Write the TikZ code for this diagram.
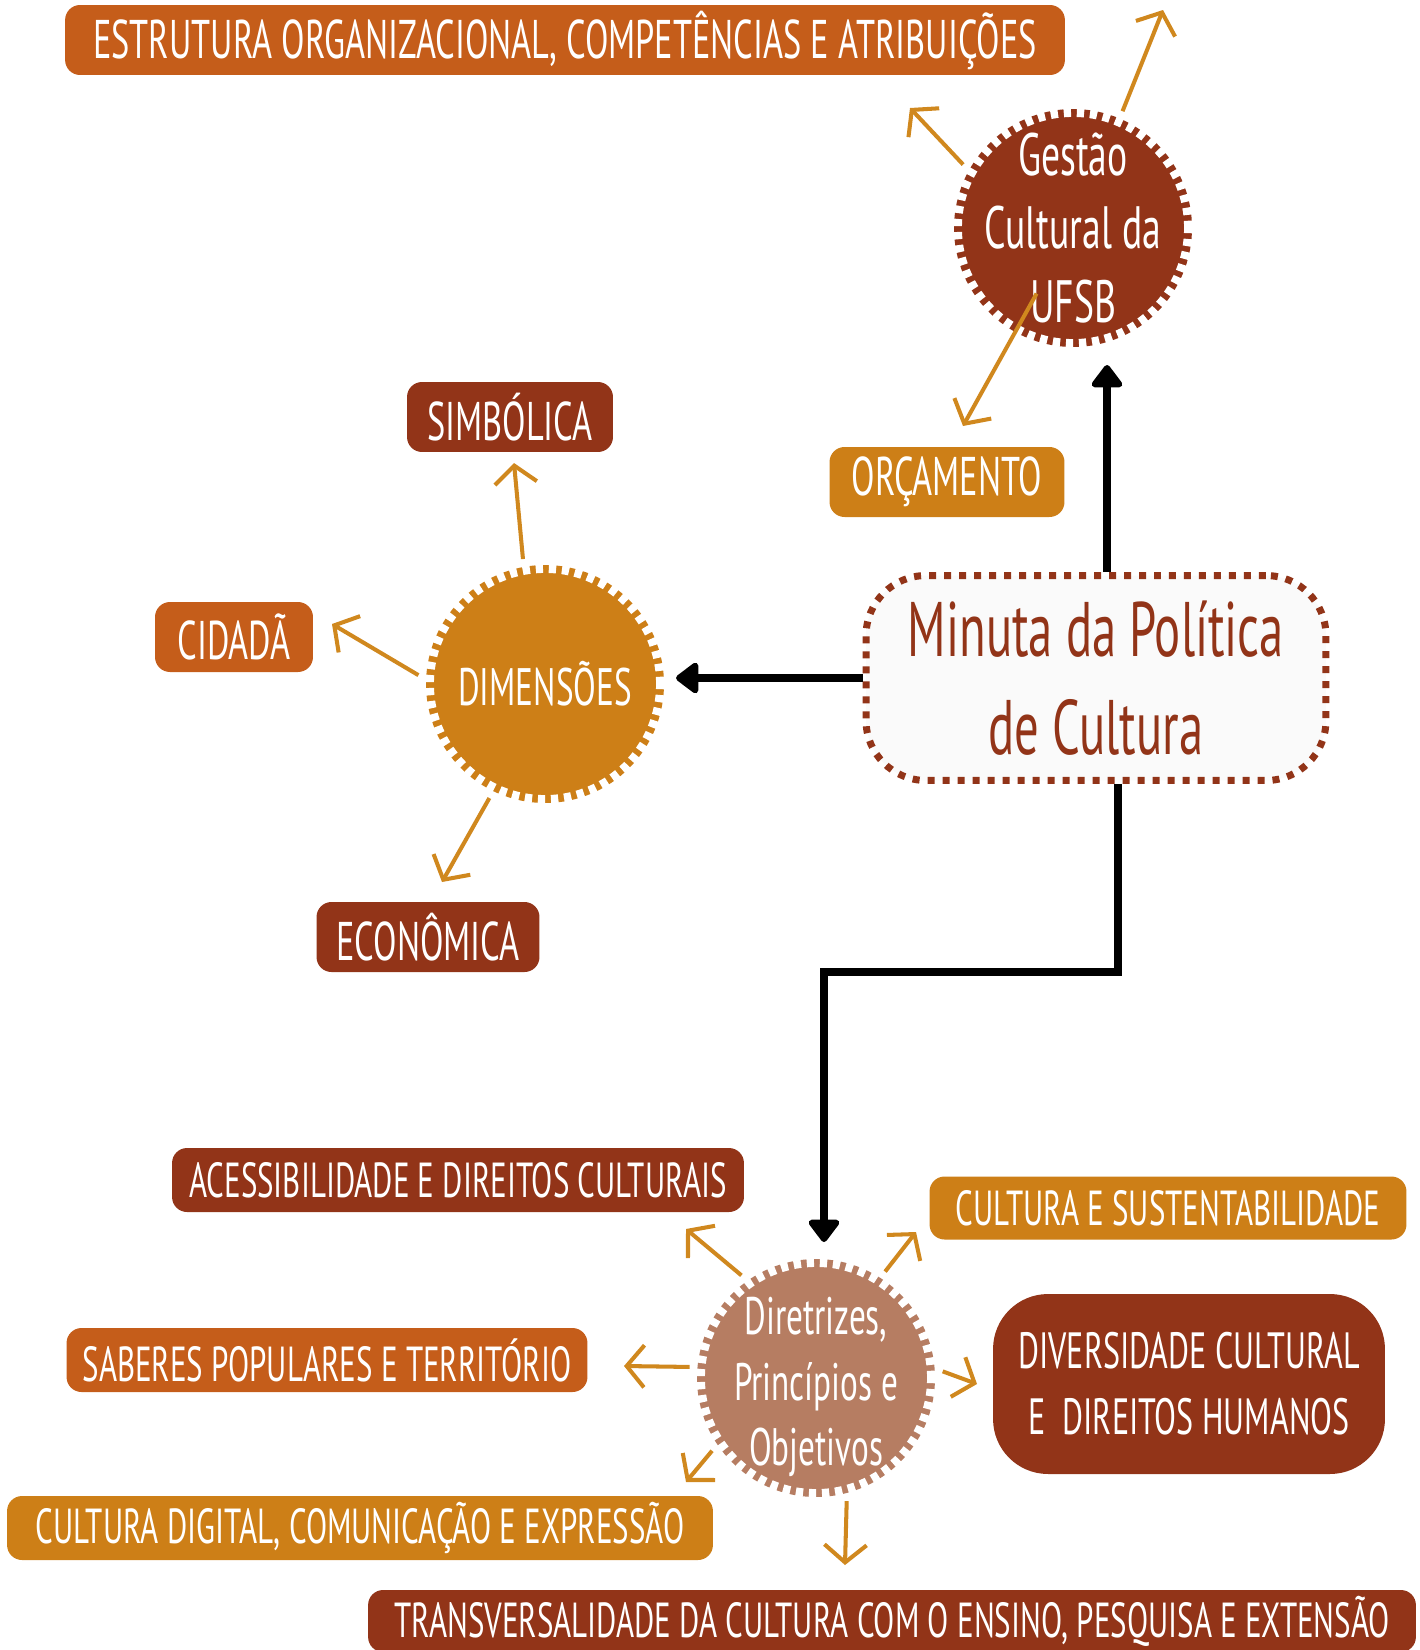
\documentclass[tikz,border=0pt]{standalone}
\usepackage{fontspec}
\setmainfont{PT Sans}[FakeStretch=0.63]
\usetikzlibrary{arrows.meta,calc}
\definecolor{rust}{RGB}{146,52,24}
\definecolor{ember}{RGB}{197,93,26}
\definecolor{ochre}{RGB}{205,127,23}
\definecolor{clay}{RGB}{182,125,98}
\definecolor{twigcolor}{RGB}{208,136,30}
\definecolor{paper}{RGB}{250,250,250}

\begin{document}
\begin{tikzpicture}[
    x=0.02cm, y=-0.02cm,
    box/.style={rectangle,rounded corners=0.3cm,fill=#1,text=white,inner sep=0pt,align=center,font=\fontsize{31}{37}\selectfont},
    lowbox/.style={box=#1,font=\fontsize{28}{34}\selectfont},
    hub/.style={circle,fill=#1,draw=white,line width=9pt,dash pattern=on 0.15cm off 0.12cm,minimum size=4.76cm,inner sep=-1cm,text=white,align=center},
    arrow/.style={-{Triangle[round,length=14pt,width=20pt]},line width=4.2pt,black},
    twig/.style={-{Straight Barb[length=10pt,width=24pt]},line width=2.3pt,twigcolor}
]
\useasboundingbox (0,0) rectangle (1420,1650);

% central draft
\node[rectangle,rounded corners=1.2cm,fill=paper,draw=rust,line width=0.14cm,dash pattern=on 0.14cm off 0.16cm,
      minimum width=9.2cm,minimum height=4.1cm,text=rust,align=center,font=\fontsize{44}{56}\selectfont] (minuta) at (1096,678) {Minuta da Política\\de Cultura};

% hubs
\node[hub=rust,font=\fontsize{34}{42}\selectfont] (gestao) at (1073,228) {Gestão\\Cultural da\\UFSB};
\node[hub=ochre,font=\fontsize{30}{36}\selectfont] (dimensoes) at (545,684) {DIMENSÕES};
\node[hub=clay] (diretrizes) at (816,1378) {};
\node[text=white,align=center,font=\fontsize{30}{37.5}\selectfont] (diretrizesLabel) at (816,1387) {Diretrizes,\\Princípios e\\Objetivos};

% boxes
\node[box=ember,minimum width=20cm,minimum height=1.4cm] (estrutura) at (565,40) {ESTRUTURA ORGANIZACIONAL, COMPETÊNCIAS E ATRIBUIÇÕES};
\node[box=ochre,minimum width=4.7cm,minimum height=1.4cm] (orcamento) at (947,482) {ORÇAMENTO};
\node[box=rust,minimum width=4.12cm,minimum height=1.4cm] (simbolica) at (510,417) {SIMBÓLICA};
\node[box=ember,minimum width=3.16cm,minimum height=1.4cm] (cidada) at (234,637) {CIDADÃ};
\node[box=rust,minimum width=4.46cm,minimum height=1.4cm] (economica) at (428,937) {ECONÔMICA};
\node[lowbox=rust,minimum width=11.44cm,minimum height=1.28cm] (acesso) at (458,1180) {ACESSIBILIDADE E DIREITOS CULTURAIS};
\node[lowbox=ochre,minimum width=9.54cm,minimum height=1.26cm] (sustenta) at (1168,1208) {CULTURA E SUSTENTABILIDADE};
\node[lowbox=ember,minimum width=10.42cm,minimum height=1.28cm] (saberes) at (327,1360) {SABERES POPULARES E TERRITÓRIO};
\node[box=rust,rounded corners=1.1cm,minimum width=7.84cm,minimum height=3.6cm,font=\fontsize{29}{37.5}\selectfont] (diversidade) at (1189,1384) {DIVERSIDADE CULTURAL\\E~~DIREITOS HUMANOS};
\node[lowbox=ochre,minimum width=14.12cm,minimum height=1.28cm] (digital) at (360,1528) {CULTURA DIGITAL, COMUNICAÇÃO E EXPRESSÃO};
\node[lowbox=rust,minimum width=20.96cm,minimum height=1.24cm] (transversal) at (892,1621) {TRANSVERSALIDADE DA CULTURA COM O ENSINO, PESQUISA E EXTENSÃO};

% free arrow ends
\coordinate (gestaoUL) at (910,108);
\coordinate (gestaoUR) at (1163,10);
\coordinate (gestaoDL) at (963,426);
\coordinate (dimUp) at (514,463);
\coordinate (dimLeft) at (332,624);
\coordinate (dimDown) at (442,882);
\coordinate (dirUL) at (686,1229);
\coordinate (dirUR) at (916,1232);
\coordinate (dirLeft) at (624,1366);
\coordinate (dirRight) at (977,1384);
\coordinate (dirDL) at (686,1482);
\coordinate (dirDown) at (845,1565);

\draw[twig] (gestao.150) -- (gestaoUL);
\draw[twig] (gestao.67) -- (gestaoUR);
\draw[twig,shorten <=1.5cm] (gestao.center) -- (gestaoDL);
\draw[twig] (dimensoes.100) -- (dimUp);
\draw[twig] (dimensoes.176) -- (dimLeft);
\draw[twig] (dimensoes.244) -- (dimDown);
\draw[twig] (diretrizes.126) -- (dirUL);
\draw[twig] (diretrizes.57) -- (dirUR);
\draw[twig] (diretrizes.175) -- (dirLeft);
\draw[twig] (diretrizes.3) -- (dirRight);
\draw[twig] (diretrizes.215) -- (dirDL);
\draw[twig] (diretrizes.284) -- (dirDown);

% main connectors
\coordinate (gestaoTip) at (1107,365);
\coordinate (dimTip) at (676,684);
\coordinate (elbow) at (1118,972);
\coordinate (dirTip) at (824,1242);
\draw[arrow] (minuta.north -| gestaoTip) -- (gestaoTip);
\draw[arrow] (minuta.west) -- (minuta.west -| dimTip);
\draw[arrow] (minuta.south -| elbow) -- (elbow) -| (dirTip);

\end{tikzpicture}
\end{document}
